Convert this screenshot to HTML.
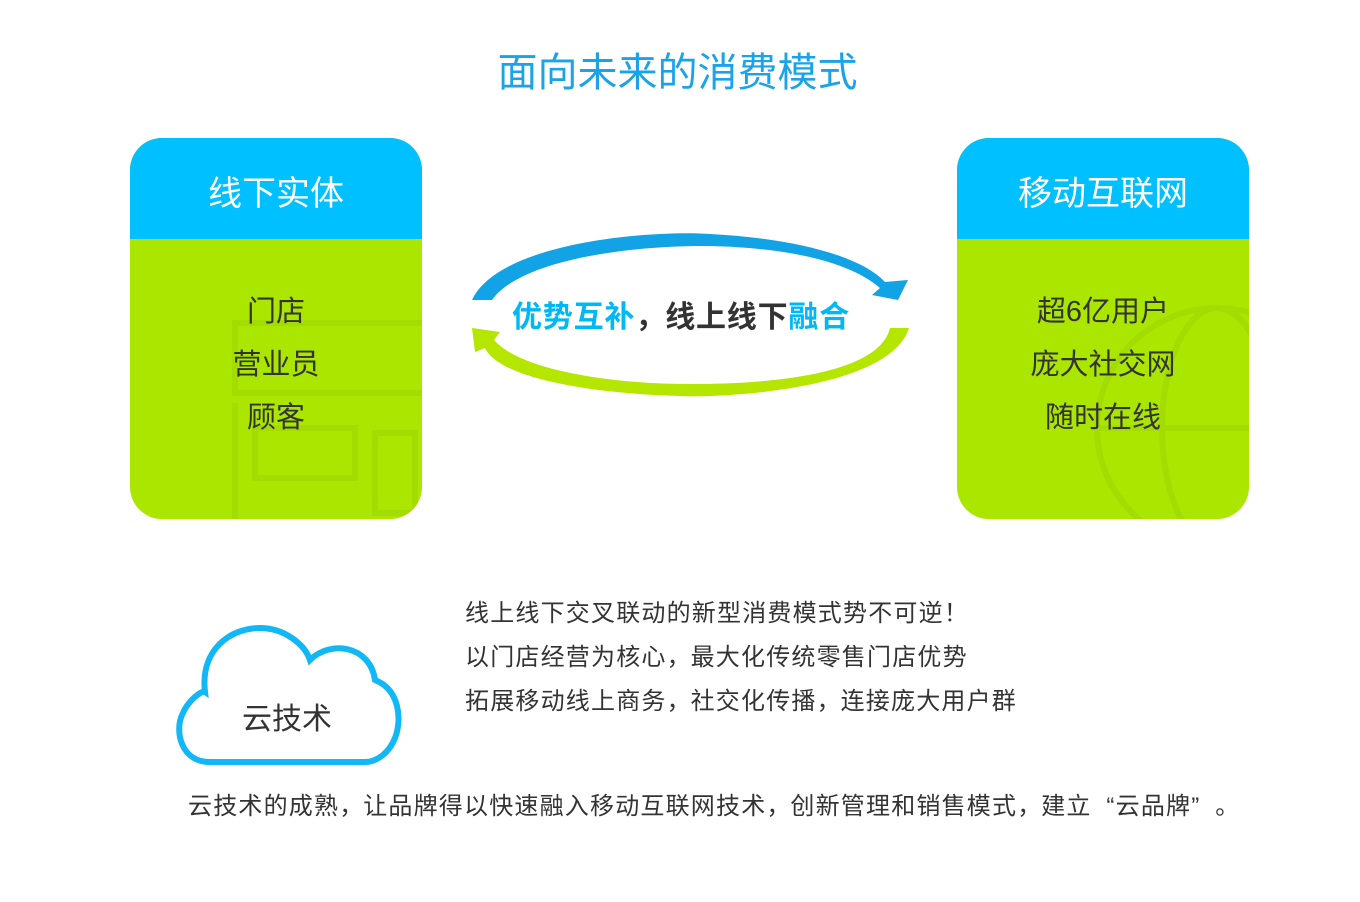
<!DOCTYPE html>
<html><head><meta charset="utf-8"><style>
body{margin:0;width:1360px;height:902px;background:#fff;position:relative;overflow:hidden;font-family:"Liberation Sans","Noto Sans CJK SC",sans-serif;color:#333}
.a{position:absolute;white-space:nowrap}
.p{display:inline-block;width:1em;text-align:left}
.q{display:inline-block;width:1em;text-align:right}
.box{position:absolute;top:138px;width:292px;height:381px;border-radius:32px;overflow:hidden;background:#aae600}
.hd{height:101px;background:#00c0ff;color:#fff;font-size:34px;text-align:center;line-height:112px}
.bd{text-align:center;font-size:29px;line-height:53px;padding-top:47px;color:#333}
</style></head><body>
<div class="a" style="left:0;width:1355px;text-align:center;top:40px;font-size:40px;color:#1aa3e8">面向未来的消费模式</div>
<div class="box" style="left:130px">
<svg class="a" style="left:100px;top:175px" width="200" height="210"><g fill="none" stroke="#a3dc00" stroke-width="6"><rect x="5" y="10" width="200" height="70"/><rect x="25" y="115" width="100" height="50"/><rect x="145" y="120" width="40" height="80"/><line x1="5" y1="90" x2="5" y2="210"/></g></svg>
<div class="hd" style="position:relative">线下实体</div>
<div class="bd" style="position:relative">门店<br>营业员<br>顾客</div></div>
<div class="box" style="left:957px">
<svg class="a" style="left:110px;top:150px" width="200" height="240"><g fill="none" stroke="#a3dc00" stroke-width="6"><circle cx="150" cy="140" r="120"/><ellipse cx="150" cy="140" rx="55" ry="120"/><line x1="30" y1="140" x2="290" y2="140"/></g></svg>
<div class="hd" style="position:relative">移动互联网</div>
<div class="bd" style="position:relative">超6亿用户<br>庞大社交网<br>随时在线</div></div>
<svg class="a" style="left:460px;top:220px" width="460" height="190">
<path d="M12 80 C40 20 200 10 250 14 C330 18 400 35 425 62 L448 60 L438 80 L412 75 L420 68 C390 42 330 28 250 26 C170 25 60 40 32 80 Z" fill="#12a2e6"/>
<path d="M449 108 C430 170 260 178 220 176 C140 174 40 160 25 128 L15 132 L12 108 L40 112 L34 120 C60 150 150 164 230 164 C330 164 420 150 430 108 Z" fill="#b4e600"/>
</svg>
<div class="a" style="left:512px;top:292px;font-size:30px;font-weight:bold;color:#333;letter-spacing:0.8px"><span style="color:#00b8f5">优势互补</span><span class="p" style="text-align:center">，</span>线上线下<span style="color:#00b8f5">融合</span></div>
<svg class="a" style="left:170px;top:620px" width="240" height="150"><path d="M40 142 C10 142 5 110 12 95 C18 80 32 70 35 72 C30 30 60 8 90 8 C115 8 135 25 140 40 C160 20 200 25 205 60 C230 70 232 100 225 118 C218 135 205 142 195 142 Z" fill="#fff" stroke="#12b8f5" stroke-width="6"/></svg>
<div class="a" style="left:242px;top:694px;font-size:30px">云技术</div>
<div class="a" style="left:465px;top:592px;font-size:24px;line-height:44px;letter-spacing:1.2px">线上线下交叉联动的新型消费模式势不可逆<span class="p" style="text-align:center">！</span><br>以门店经营为核心<span class="p">，</span>最大化传统零售门店优势<br>拓展移动线上商务<span class="p">，</span>社交化传播<span class="p">，</span>连接庞大用户群</div>
<div class="a" style="left:188px;top:786px;font-size:24px;letter-spacing:1.2px">云技术的成熟<span class="p">，</span>让品牌得以快速融入移动互联网技术<span class="p">，</span>创新管理和销售模式<span class="p">，</span>建立<span class="q">“</span>云品牌<span class="p">”</span><span class="p" style="text-align:center">。</span></div>
</body></html>
